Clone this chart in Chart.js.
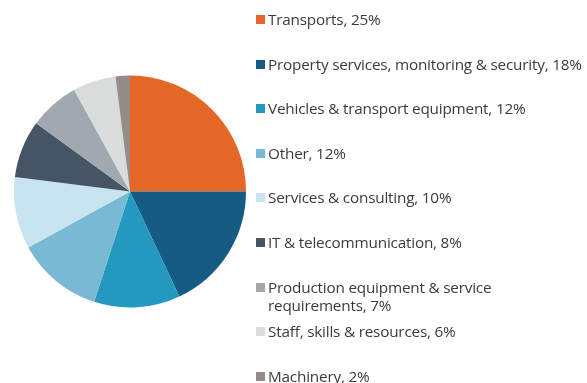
<!DOCTYPE html>
<html>
<head>
<meta charset="utf-8">
<script src="https://cdn.jsdelivr.net/npm/chart.js@4/dist/chart.umd.min.js"></script>
<style>
  html, body { margin:0; padding:0; background:#fff; }
  #wrap { position:relative; width:587px; height:383px; overflow:hidden; }
  #pieBox { position:absolute; left:0; top:0; width:260px; height:383px; }
  #legend { position:absolute; left:0; top:0; width:587px; height:383px; }
  .item { position:absolute; left:256px; font-family:"Open Sans", sans-serif; font-size:15.3px;
          line-height:18px; color:#3b3b3b; white-space:pre-line; padding-left:12px; letter-spacing:-0.2px; }
  .item i { position:absolute; left:0; top:5px; width:9px; height:9px; }
</style>
</head>
<body>
<div id="wrap">
  <div id="pieBox"><canvas id="pie"></canvas></div>
  <div id="legend"></div>
</div>
<script>
const categories = [
  "Transports",
  "Property services, monitoring & security",
  "Vehicles & transport equipment",
  "Other",
  "Services & consulting",
  "IT & telecommunication",
  "Production equipment & service\nrequirements",
  "Staff, skills & resources",
  "Machinery"
];
const shares = [25, 18, 12, 12, 10, 8, 7, 6, 2];
const colors = ["#e36726", "#165b84", "#2399bf", "#79b9d4", "#c8e4ef", "#465563", "#a0a9af", "#d8dcdb", "#958c87"];

// PIE
new Chart(document.getElementById("pie"), {
  type: "pie",
  data: {
    labels: categories,
    datasets: [{ data: shares, backgroundColor: colors, borderWidth: 0 }]
  },
  options: {
    responsive: true,
    maintainAspectRatio: false,
    animation: false,
    layout: { padding: 14 },
    plugins: { legend: { display: false }, tooltip: { enabled: false } }
  }
});

// LEGEND (html so the long label can wrap)
const legend = document.getElementById("legend");
categories.forEach((cat, i) => {
  const div = document.createElement("div");
  div.className = "item";
  div.style.top = (10 + 44.6 * i) + "px";
  div.innerHTML = `<i style="background:${colors[i]}"></i>`;
  div.appendChild(document.createTextNode(`${cat}, ${shares[i]}%`));
  legend.appendChild(div);
});
</script>
</body>
</html>
